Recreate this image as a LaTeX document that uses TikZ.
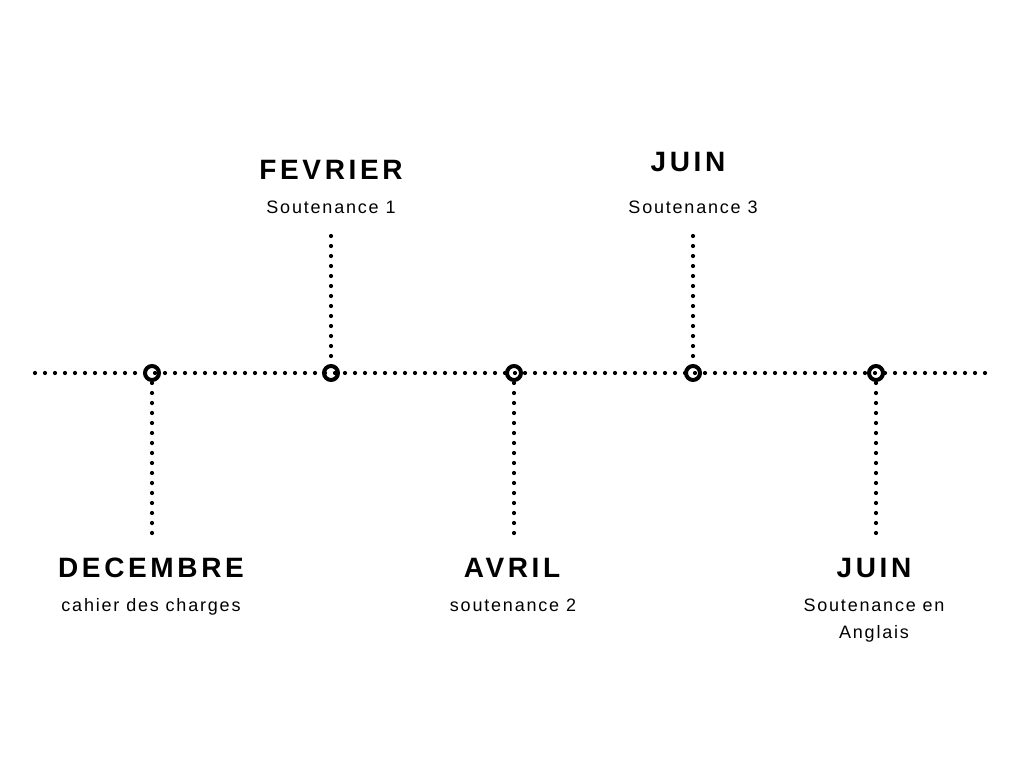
\documentclass[tikz,border=0pt]{standalone}
\usepackage{fontspec}
\setmainfont{Liberation Sans}
\newfontfamily\monthfont[LetterSpace=13]{Liberation Sans Bold}
\newfontfamily\eventfont[LetterSpace=10]{Liberation Sans}
\begin{document}
\begin{tikzpicture}[x=1pt, y=-1pt,
    dotline/.style = {line width=4.2pt, line cap=round, dash pattern=on 0pt off 10pt},
    marker/.style = {circle, draw, line width=4pt, minimum size=14pt, inner sep=0pt},
    month/.style = {anchor=base, inner sep=0pt, font=\monthfont\fontsize{28}{30}\selectfont},
    event/.style = {anchor=base, inner sep=0pt, align=center, font=\eventfont\fontsize{18}{27}\selectfont}]
    \useasboundingbox (0, 0) rectangle (1024, 768);

    % points on the axis
    \coordinate (axisL) at (35, 373);
    \coordinate (axisR) at (987, 373);
    \coordinate (dec) at (152, 373);
    \coordinate (fev) at (331, 373);
    \coordinate (avr) at (514, 373);
    \coordinate (jun) at (693, 373);
    \coordinate (ang) at (876, 373);

    % ends of the stems
    \coordinate (decend) at (152, 534);
    \coordinate (fevend) at (331, 236);
    \coordinate (avrend) at (514, 534);
    \coordinate (junend) at (693, 236);
    \coordinate (angend) at (876, 534);

    \draw[dotline] (fevend) -- ([yshift=10]fev);
    \draw[dotline] (junend) -- ([yshift=10]jun);
    \draw[dotline] ([yshift=-10]dec) -- (decend);
    \draw[dotline] ([yshift=-10]avr) -- (avrend);
    \draw[dotline] ([yshift=-10]ang) -- (angend);
    \draw[dotline] (axisL) -- (axisR);

    % markers on top of the dots
    \foreach \m in {dec, fev, avr, jun, ang}
        \node[marker] (\m mark) at (\m) {};

    % labels
    \node[month] (fevtitle) at (331, 179) {FEVRIER};
    \node[event] (fevtext) at (331, 213) {Soutenance 1};
    \node[month] (juntitle) at (688, 171) {JUIN};
    \node[event] (juntext) at (693, 213) {Soutenance 3};

    \node[month] (dectitle) at (151, 577) {DECEMBRE};
    \node[event] (dectext) at (151, 611) {cahier des charges};
    \node[month] (avrtitle) at (512, 577) {AVRIL};
    \node[event] (avrtext) at (513, 611) {soutenance 2};
    \node[month] (angtitle) at (874, 577) {JUIN};
    \node[event] (angtext) at (874, 638) {Soutenance en\\Anglais};
\end{tikzpicture}
\end{document}
